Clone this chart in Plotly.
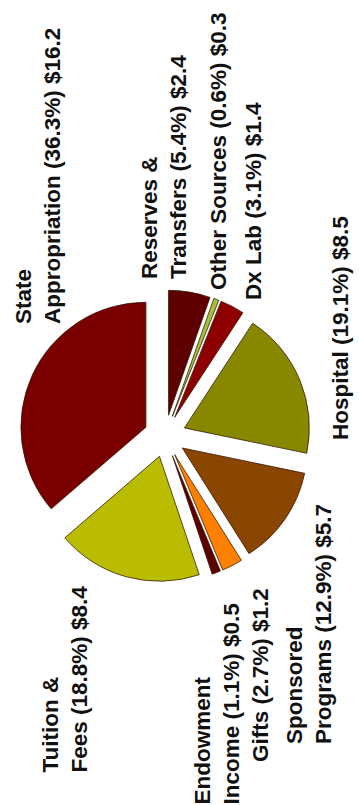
import plotly.graph_objects as go

W, H = 359, 805

# Data (order: counterclockwise from 12 o'clock)
labels = ["State Appropriation", "Tuition & Fees", "Endowment Income", "Gifts",
          "Sponsored Programs", "Hospital", "Dx Lab", "Other Sources", "Reserves & Transfers"]
values = [16.2, 8.4, 0.5, 1.2, 5.7, 8.5, 1.4, 0.3, 2.4]
percents = [36.3, 18.8, 1.1, 2.7, 12.9, 19.1, 3.1, 0.6, 5.4]
colors = ["#7A0000", "#BABC00", "#5C0000", "#FF8000", "#8A4500",
          "#878700", "#8E0000", "#A8BF3C", "#5E0000"]
label_lines = [["State", "Appropriation"], ["Tuition &", "Fees"], ["Endowment", "Income"],
               ["Gifts"], ["Sponsored", "Programs"], ["Hospital"], ["Dx Lab"],
               ["Other Sources"], ["Reserves &", "Transfers"]]

# label placement (screen px): center x, start (bottom) y
label_pos = [(38, 324), (64, 773), (216, 805), (260, 762), (309, 744),
             (340, 440), (253, 300), (218, 290), (164, 279)]

first_share = values[0] / sum(values) * 360

fig = go.Figure(go.Pie(
    labels=labels, values=values, sort=False, direction="counterclockwise",
    rotation=-first_share, pull=[0.168] * len(values),
    marker=dict(colors=colors, line=dict(color="rgba(50,20,0,0.75)", width=1)),
    textinfo="none", hoverinfo="label+value+percent", showlegend=False,
    domain=dict(x=[19 / W, 311 / W], y=[1 - 582 / H, 1 - 290 / H]),
))

for lines, pct, val, (cx, by) in zip(label_lines, percents, values, label_pos):
    parts = lines[:-1] + [f"{lines[-1]} ({pct}%) ${val}"]
    txt = "<br>".join(f"<b>{p}</b>" for p in parts)
    fig.add_annotation(
        text=txt, x=cx / W, y=1 - by / H, xref="paper", yref="paper",
        xanchor="center", yanchor="bottom", textangle=-90, align="left",
        showarrow=False, font=dict(family="Liberation Sans", size=22.5, color="#111111"),
        borderpad=0, borderwidth=0,
    )

fig.update_layout(width=W, height=H, margin=dict(l=0, r=0, t=0, b=0),
                  paper_bgcolor="white", plot_bgcolor="white")

fig.write_html("out.html")
